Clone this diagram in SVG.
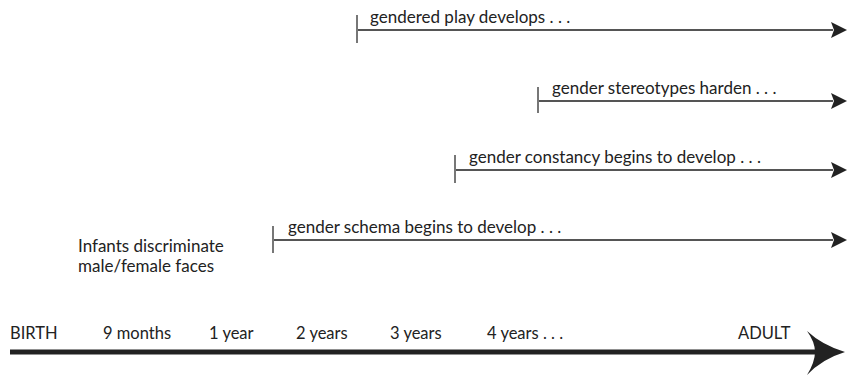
<svg xmlns="http://www.w3.org/2000/svg" width="849" height="375" viewBox="0 0 849 375">
<defs>
<style>
text{font-family:Lato,"Open Sans","Liberation Sans",sans-serif;font-size:17px;fill:#222}
.ax{font-size:16.5px}
.bar{stroke:#555;stroke-width:2;fill:none}
.tick{stroke:#777;stroke-width:2;fill:none}
.axis{stroke:#222;stroke-width:5;fill:none}
</style>
<marker id="ah" viewBox="0 0 16 16" refX="2" refY="8" markerWidth="16" markerHeight="16" markerUnits="userSpaceOnUse" orient="auto">
<path d="M0,0 L16,8 L0,16 L3,8 Z" fill="#222"/>
</marker>
</defs>
<rect width="849" height="375" fill="#fff"/>
<g id="connectors">
<line class="bar" x1="357" y1="30" x2="833" y2="30" marker-end="url(#ah)"/>
<line class="bar" x1="538" y1="101" x2="833" y2="101" marker-end="url(#ah)"/>
<line class="bar" x1="455" y1="170" x2="833" y2="170" marker-end="url(#ah)"/>
<line class="bar" x1="273" y1="240" x2="833" y2="240" marker-end="url(#ah)"/>
<line class="axis" x1="10" y1="352" x2="815" y2="352"/>
<path d="M807,331 Q822,345 845,352 Q822,359 807,375 Q815,362 815,352 Q815,342 807,331 Z" fill="#222"/>
</g>
<g id="n-play">
<line class="tick" x1="357" y1="15" x2="357" y2="43"/>
<text x="370" y="23">gendered play develops . . .</text>
</g>
<g id="n-stereotypes">
<line class="tick" x1="538" y1="87" x2="538" y2="113"/>
<text x="552" y="94">gender stereotypes harden . . .</text>
</g>
<g id="n-constancy">
<line class="tick" x1="455" y1="155" x2="455" y2="183"/>
<text x="469" y="163">gender constancy begins to develop . . .</text>
</g>
<g id="n-schema">
<line class="tick" x1="273" y1="226" x2="273" y2="253"/>
<text x="288" y="233">gender schema begins to develop . . .</text>
</g>
<g id="n-infants">
<text x="78" y="252">Infants discriminate</text>
<text x="78" y="272">male/female faces</text>
</g>
<g id="axis-labels" class="ax">
<text class="ax" x="10" y="339">BIRTH</text>
<text class="ax" x="103" y="339">9 months</text>
<text class="ax" x="209" y="339">1 year</text>
<text class="ax" x="296" y="339">2 years</text>
<text class="ax" x="390" y="339">3 years</text>
<text class="ax" x="487" y="339">4 years . . .</text>
<text class="ax" x="738" y="339">ADULT</text>
</g>
</svg>
